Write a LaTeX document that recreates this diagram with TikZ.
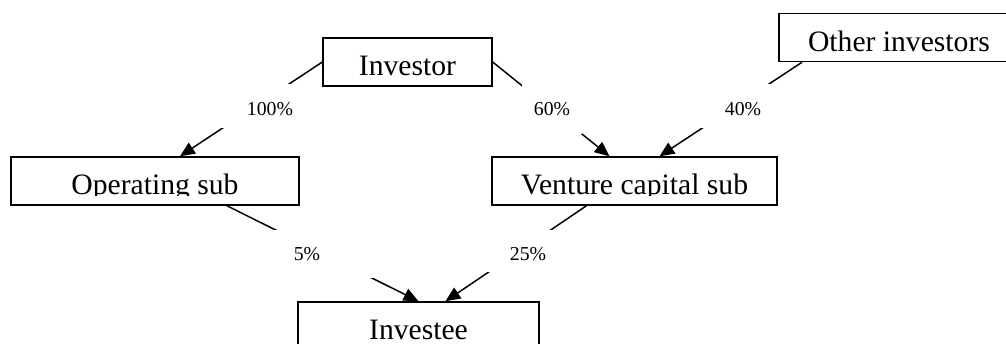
\documentclass[tikz,border=0pt]{standalone}
\usepackage{fontspec}
\setmainfont{Liberation Serif}
\usetikzlibrary{calc}
\usetikzlibrary{arrows.meta}

\begin{document}
\begin{tikzpicture}[x=0.405pt,y=-0.405pt,
    entity/.style={draw,line width=0.6pt,minimum height=19.44pt,inner sep=0pt,
      text height=11.3pt,text depth=0pt,font=\fontsize{12}{14.4}\selectfont},
    ownership/.style={line width=0.6pt,-{Triangle[length=6pt,width=5.2pt]}},
    share/.style={fill=white,inner sep=0pt,font=\fontsize{8}{9.6}\selectfont}]
    % Page
    \clip (0,0) rectangle (1006,344);
    % Boxes
    \node[entity,minimum width=68.4pt] (inv) at (407.5,62) {Investor};
    \node[entity,minimum width=97.2pt] (oth) at (899,37.5) {Other investors};
    \node[entity,minimum width=116.6pt] (op) at (155,181) {};
    \node[entity,minimum width=115.4pt] (vc) at (634.5,181) {};
    \node[entity,minimum width=97.6pt] (ee) at (418.5,326) {Investee};
    % Texts cut off at the baseline
    \begin{scope}
      \clip (op.north west) rectangle ($(op.east)+(0,14)$);
      \node[entity,draw=none,minimum width=116.6pt] (optext) at (op) {Operating sub};
    \end{scope}
    \begin{scope}
      \clip (vc.north west) rectangle ($(vc.east)+(0,14)$);
      \node[entity,draw=none,minimum width=115.4pt] (vctext) at (vc) {Venture capital sub};
    \end{scope}
    % Holdings
    \draw[ownership] (inv.west) -- ($(op.north)+(25,0)$);
    \draw[ownership] (inv.east) -- ($(vc.north)+(-25,0)$);
    \draw[ownership] ($(oth.south)+(-97,0)$) -- ($(vc.north)+(25,0)$);
    \draw[ownership] ($(op.south)+(72,0)$) -- (ee.north);
    \draw[ownership] ($(vc.south)+(-48,0)$) -- ($(ee.north)+(27,0)$);
    % Shares
    \node[share,text height=7.9pt,minimum width=40.5pt,minimum height=17.8pt] (s100) at (270,106) {100\%};
    \node[share,minimum width=24.3pt,minimum height=20.25pt] (s60) at (552,109) {60\%};
    \node[share,text height=7.9pt,minimum width=40.5pt,minimum height=17.8pt] (s40) at (743,106) {40\%};
    \node[share,minimum width=55.1pt,minimum height=19.44pt] (s5) at (307,254) {5\%};
    \node[share,text height=7.9pt,minimum width=34pt,minimum height=17pt] (s25) at (528,251) {25\%};
  \end{tikzpicture}
\end{document}
